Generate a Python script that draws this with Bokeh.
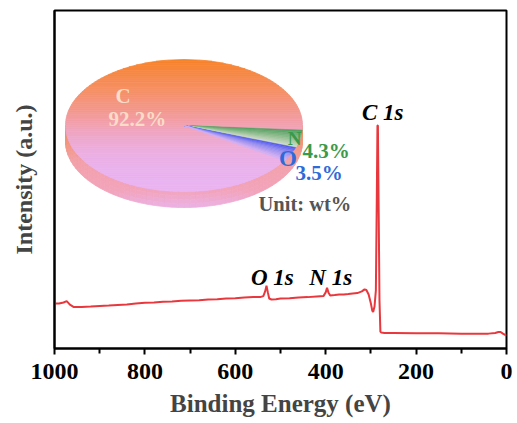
import numpy as np
from bokeh.plotting import figure
from bokeh.models import Range1d, FixedTicker
from bokeh.core.properties import value
from bokeh.embed import file_html
from bokeh.resources import INLINE

# ---------------- data ----------------
binding_energy = [1000, 990, 980, 973, 966, 958, 940, 920, 900, 880, 860, 840, 820, 800,
                  780, 760, 740, 720, 700, 680, 660, 640, 620, 600, 580, 560, 545, 538,
                  534, 531, 528, 525, 520, 510, 500, 480, 460, 440, 420, 405, 400, 397,
                  394, 390, 380, 370, 360, 350, 340, 330, 320, 314, 310, 305, 300, 297,
                  295, 292, 289, 287, 285.5, 284.5, 283, 281, 279, 277, 270, 250, 200,
                  150, 100, 60, 40, 25, 18, 13, 8, 3, 0]
intensity = [13.3, 13.3, 13.6, 14.0, 13.0, 12.3, 12.3, 12.4, 12.6, 12.7, 12.9, 13.0, 13.3, 13.5,
             13.6, 13.8, 13.9, 14.1, 14.2, 14.3, 14.5, 14.6, 14.8, 14.9, 15.1, 15.2, 15.2, 15.5,
             16.9, 18.6, 16.6, 14.8, 14.5, 14.6, 14.8, 14.9, 15.1, 15.2, 15.4, 15.5, 16.6, 18.0,
             16.6, 15.7, 15.8, 16.0, 16.0, 16.1, 16.3, 16.4, 16.9, 17.5, 17.3, 16.0, 13.3, 11.2,
             10.8, 12.4, 17.2, 43.8, 66.0, 66.0, 43.8, 14.2, 5.0, 4.7, 4.6, 4.6, 4.5,
             4.5, 4.4, 4.4, 4.4, 4.6, 4.9, 4.9, 4.4, 4.0, 3.8]

x_ticks = [1000, 800, 600, 400, 200, 0]
x_minor_ticks = [900, 700, 500, 300, 100]

peak_names = ["C 1s", "O 1s", "N 1s"]
peak_be = [274, 518, 389]
peak_intensity = [69.8, 21.0, 21.0]

elements = ["C", "N", "O"]
wt_percent = [92.2, 4.3, 3.5]

# ---------------- figure ----------------
FRAME_W, FRAME_H = 452, 338
p = figure(frame_width=FRAME_W, frame_height=FRAME_H, output_backend="svg", toolbar_location=None,
           x_range=Range1d(1000, 0), y_range=Range1d(0, 100),
           min_border_left=54, min_border_right=11, min_border_top=10, min_border_bottom=60)
p.extra_x_ranges = {"ix": Range1d(0, FRAME_W)}
p.extra_y_ranges = {"iy": Range1d(FRAME_H, 0)}

p.xgrid.visible = False
p.ygrid.visible = False
p.background_fill_color = "white"
p.border_fill_color = "white"
p.outline_line_color = "black"
p.outline_line_width = 2
p.outline_line_alpha = 1

serif = "Liberation Serif"
xa = p.xaxis[0]
xa.ticker = FixedTicker(ticks=x_ticks, minor_ticks=x_minor_ticks)
xa.axis_line_width = 2
xa.major_tick_line_width = 2
xa.minor_tick_line_width = 2
xa.major_tick_in = 0
xa.major_tick_out = 6
xa.minor_tick_in = 0
xa.minor_tick_out = 5
xa.major_label_text_font = serif
xa.major_label_text_font_style = "bold"
xa.major_label_text_font_size = "24px"
xa.major_label_text_color = "black"
xa.major_label_standoff = 9
xa.axis_label = "Binding Energy (eV)"
xa.axis_label_text_font = serif
xa.axis_label_text_font_style = "bold"
xa.axis_label_text_font_size = "25px"
xa.axis_label_standoff = 8

ya = p.yaxis[0]
ya.ticker = FixedTicker(ticks=[])
ya.axis_line_width = 2
ya.major_tick_line_color = None
ya.minor_tick_line_color = None
ya.axis_label = "Intensity (a.u.)"
ya.axis_label_text_font = serif
ya.axis_label_text_font_style = "bold"
ya.axis_label_text_font_size = "24px"
ya.axis_label_standoff = 18

# ---------------- spectrum ----------------
p.line(binding_energy, intensity, line_color="#E8383D", line_width=2)

p.text(x=peak_be, y=peak_intensity, text=peak_names, text_align="center",
       text_baseline="middle", text_font=value(serif), text_font_style="bold italic",
       text_font_size="23px", text_color="black")

# ---------------- 3D pie inset (inset pixel coordinates, y down) ----------------
cx, cy, rx, ry, depth = 129.5, 115.0, 118.5, 66.0, 16.0


def hex2rgb(h):
    h = h.lstrip("#")
    return np.array([int(h[i:i + 2], 16) for i in (0, 2, 4)], dtype=float)


def interp(stops, t):
    ts = [s[0] for s in stops]
    cols = [hex2rgb(s[1]) for s in stops]
    t = min(max(t, ts[0]), ts[-1])
    for i in range(len(ts) - 1):
        if ts[i] <= t <= ts[i + 1]:
            f = (t - ts[i]) / (ts[i + 1] - ts[i]) if ts[i + 1] > ts[i] else 0
            c = cols[i] * (1 - f) + cols[i + 1] * f
            return "#%02x%02x%02x" % tuple(int(round(v)) for v in c)
    return stops[-1][1]


face_stops = [(49, "#F7832A"), (75, "#F68E5C"), (100, "#F4988C"), (120, "#F0A4BE"),
              (140, "#ECAEDF"), (160, "#EAB3EE"), (181, "#EAB4F2")]
side_stops = [(115, "#F5883A"), (132, "#F3967A"), (150, "#F2A0A8"), (181, "#F2A4BC"),
              (197, "#EBB2E6")]


def ex(th):
    return cx + rx * np.cos(np.radians(th))


def ey(th):
    return cy - ry * np.sin(np.radians(th))


# side of the disc (front half)
sx, sy, sc = [], [], []
thetas = np.linspace(180, 360, 61)
layers = np.linspace(0, depth, 5)
for i in range(len(thetas) - 1):
    t1, t2 = thetas[i], thetas[i + 1]
    for j in range(len(layers) - 1):
        d0, d1 = layers[j], layers[j + 1]
        xs = [ex(t1), ex(t2), ex(t2), ex(t1)]
        ys = [ey(t1) + d0, ey(t2) + d0, ey(t2) + d1, ey(t1) + d1]
        sx.append(xs)
        sy.append(ys)
        sc.append(interp(side_stops, float(np.mean(ys))))
p.patches(sx, sy, fill_color=sc, line_color=sc, line_width=0.8,
          x_range_name="ix", y_range_name="iy")

# top face (C slice) as horizontal gradient strips
fx, fy, fc = [], [], []
edges = np.linspace(cy - ry, cy + ry, 71)
for i in range(len(edges) - 1):
    ya_, yb_ = edges[i], edges[i + 1]
    yy = np.linspace(ya_, yb_, 4)
    half = rx * np.sqrt(np.clip(1 - ((yy - cy) / ry) ** 2, 0, 1))
    xs = list(cx - half) + list((cx + half)[::-1])
    ys = list(yy) + list(yy[::-1])
    fx.append(xs)
    fy.append(ys)
    fc.append(interp(face_stops, (ya_ + yb_) / 2))
p.patches(fx, fy, fill_color=fc, line_color=fc, line_width=0.8,
          x_range_name="ix", y_range_name="iy")

# small slices (N, O), clockwise from just below the right-hand rim
slice_colors = {"N": [(0, "#4E9F5E"), (0.5, "#8DBF8E"), (1, "#D2DFCC")],
                "O": [(0, "#4B55EE"), (0.4, "#8E8CF0"), (1, "#D9B4F2")]}
start = -4.0
wx, wy, wc = [], [], []
for el, pct in zip(elements, wt_percent):
    if el == "C":
        continue
    span = 360.0 * pct / 100.0
    n_sub = 10
    for k in range(n_sub):
        a1 = start - span * k / n_sub
        a2 = start - span * (k + 1) / n_sub
        arc = np.linspace(a1, a2, 4)
        wx.append([cx] + [ex(a) for a in arc])
        wy.append([cy] + [ey(a) for a in arc])
        wc.append(interp(slice_colors[el], (k + 0.5) / n_sub))
    start -= span
p.patches(wx, wy, fill_color=wc, line_color=wc, line_width=0.5,
          x_range_name="ix", y_range_name="iy")

# pie labels
lab = dict(text_font=value(serif), text_font_style="bold", text_baseline="middle",
           x_range_name="ix", y_range_name="iy")
p.text(x=[61], y=[85], text=[elements[0]], text_align="left", text_font_size="21px",
       text_color="#FADCC8", **lab)
p.text(x=[54], y=[108.5], text=[f"{wt_percent[0]}%"], text_align="left", text_font_size="21px",
       text_color="#FADCC8", **lab)
p.text(x=[240], y=[128], text=[elements[1]], text_align="center", text_font_size="19px",
       text_color="#3A9A4A", **lab)
p.text(x=[248], y=[140], text=[f"{wt_percent[1]}%"], text_align="left", text_font_size="21px",
       text_color="#3A9A4A", **lab)
p.text(x=[233.5], y=[148], text=[elements[2]], text_align="center", text_font_size="23px",
       text_color="#2F6AD8", **lab)
p.text(x=[241], y=[162.5], text=[f"{wt_percent[2]}%"], text_align="left", text_font_size="21px",
       text_color="#2F6AD8", **lab)
p.text(x=[204], y=[193], text=["Unit: wt%"], text_align="left", text_font_size="20.5px",
       text_color="#555555", **lab)

open("out.html", "w").write(file_html(p, INLINE))
